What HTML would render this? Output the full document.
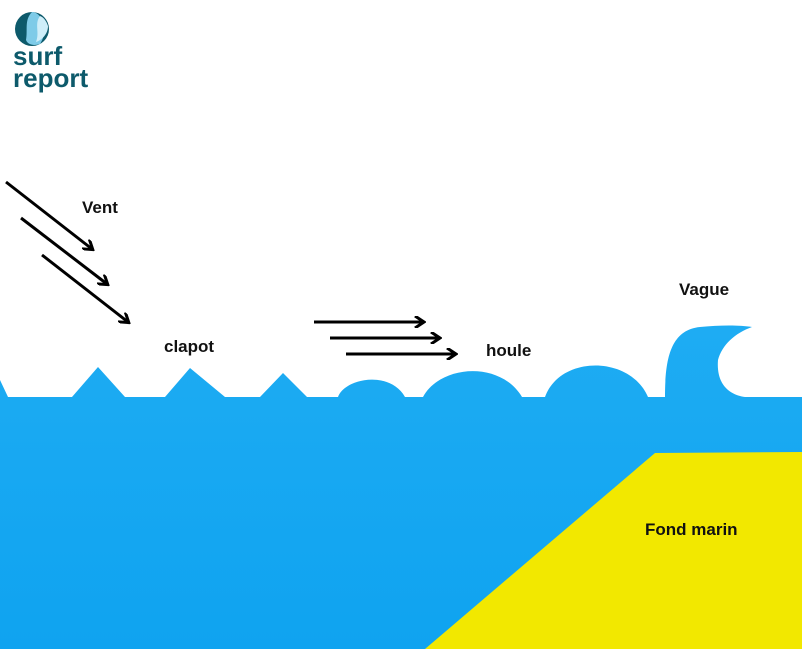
<!DOCTYPE html>
<html><head><style>
body{margin:0;width:802px;height:649px;overflow:hidden;background:#fff;font-family:"Liberation Sans",sans-serif}
</style></head><body>
<svg width="802" height="649" viewBox="0 0 802 649" xmlns="http://www.w3.org/2000/svg">
<defs>
<linearGradient id="w" x1="0" y1="0" x2="0" y2="1">
<stop offset="0" stop-color="#1eacf3"/><stop offset="1" stop-color="#0fa3f0"/>
</linearGradient>
<marker id="a" markerWidth="12" markerHeight="12" refX="9" refY="6" orient="auto" markerUnits="userSpaceOnUse">
<path d="M1,0 L10,6 L1,12" fill="none" stroke="#000" stroke-width="3"/>
</marker>
</defs>
<path fill="url(#w)" d="M0,380 L8,397 L72,397 L98,367 L125,397 L165,397 L190,368 L225,397 L260,397 L283,373 L307,397 L338,397
C345,378 390,370 405,397 L423,397 C440,365 500,360 522,397 L545,397 C560,355 630,355 648,397 L665,397
C665,360 670,330 700,327 C720,325 740,325 752,327 C735,333 722,345 718,360 C716,385 730,395 745,397 L802,397 L802,649 L0,649 Z"/>
<polygon fill="#f2e800" points="425,649 655,453 802,452 802,649"/>
<g stroke="#000" stroke-width="3" marker-end="url(#a)">
<line x1="6" y1="182" x2="92" y2="249"/>
<line x1="21" y1="218" x2="107" y2="284"/>
<line x1="42" y1="255" x2="128" y2="322"/>
<line x1="314" y1="322" x2="423" y2="322"/>
<line x1="330" y1="338" x2="439" y2="338"/>
<line x1="346" y1="354" x2="455" y2="354"/>
</g>
<g font-weight="bold" font-size="17" fill="#111">
<text x="82" y="213">Vent</text>
<text x="164" y="352">clapot</text>
<text x="486" y="356">houle</text>
<text x="679" y="295">Vague</text>
<text x="645" y="535">Fond marin</text>
</g>
<circle cx="32" cy="29" r="17" fill="#0d5a6b"/>
<path d="M32,12 C24,20 28,30 26,40 C28,45 34,46 40,44 C44,38 46,30 42,20 C40,15 36,12 32,12Z" fill="#7ecbe8"/>
<path d="M40,16 C34,24 40,32 36,42 C42,40 48,34 48,26 C46,20 43,17 40,16Z" fill="#cfeef9"/>
<g fill="#0d5a6b" font-size="26" font-weight="bold">
<text x="13" y="65">surf</text>
<text x="13" y="87">report</text>
</g>
</svg>
</body></html>
